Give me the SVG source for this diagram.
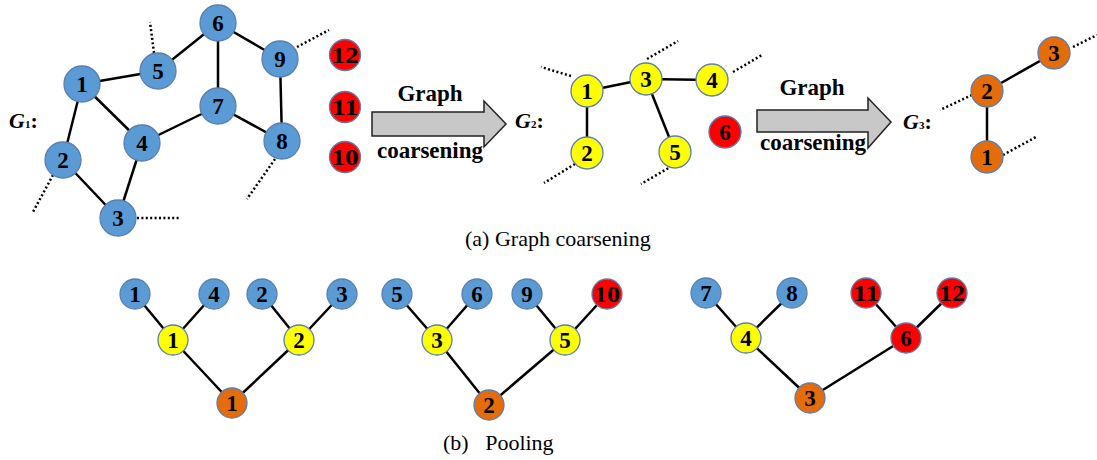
<svg xmlns="http://www.w3.org/2000/svg" width="1097" height="460" viewBox="0 0 1097 460">
<style>
.e{stroke:#000;stroke-width:2.5;fill:none}
.d{stroke:#000;stroke-width:2.5;stroke-dasharray:2 2.4;fill:none}
.n circle{stroke:#5A7FAE;stroke-width:1.3}
.b{fill:#5B9BD5}.y{fill:#FFFF00}.r{fill:#FF0000}.o{fill:#E46C0A}
.n text{font-family:"Liberation Serif",serif;font-weight:bold;font-size:23px;text-anchor:middle;fill:#000}
.t{font-family:"Liberation Serif",serif;font-weight:bold;font-size:23px;text-anchor:middle;fill:#000}
.g{font-family:"Liberation Serif",serif;font-weight:bold;font-size:22px;fill:#000}
.cap{font-family:"Liberation Serif",serif;font-size:22px;fill:#000}
.ar{fill:#C8C8C8;stroke:#222;stroke-width:1.5}
</style>
<rect width="1097" height="460" fill="#fff"/>
<g id="connectors">
<line class="e" x1="82" y1="84" x2="158" y2="71"/>
<line class="e" x1="158" y1="71" x2="218" y2="23"/>
<line class="e" x1="218" y1="23" x2="280" y2="59"/>
<line class="e" x1="218" y1="23" x2="218" y2="106"/>
<line class="e" x1="82" y1="84" x2="142" y2="143"/>
<line class="e" x1="82" y1="84" x2="63" y2="160"/>
<line class="e" x1="63" y1="160" x2="118" y2="218"/>
<line class="e" x1="118" y1="218" x2="142" y2="143"/>
<line class="e" x1="142" y1="143" x2="218" y2="106"/>
<line class="e" x1="218" y1="106" x2="282" y2="141"/>
<line class="e" x1="282" y1="141" x2="280" y2="59"/>
<line class="d" x1="154" y1="53" x2="150" y2="22"/>
<line class="d" x1="297" y1="47" x2="329" y2="30"/>
<line class="d" x1="275" y1="159" x2="247" y2="199"/>
<line class="d" x1="53" y1="175" x2="33" y2="212"/>
<line class="d" x1="137" y1="218" x2="179" y2="218"/>
<line class="e" x1="587" y1="91" x2="646" y2="79"/>
<line class="e" x1="646" y1="79" x2="712" y2="80"/>
<line class="e" x1="587" y1="91" x2="587" y2="153"/>
<line class="e" x1="646" y1="79" x2="675" y2="152"/>
<line class="d" x1="571" y1="76" x2="541" y2="67"/>
<line class="d" x1="647" y1="59" x2="678" y2="41"/>
<line class="d" x1="733" y1="72" x2="762" y2="55"/>
<line class="d" x1="575" y1="164" x2="544" y2="183"/>
<line class="d" x1="672" y1="166" x2="641" y2="184"/>
<line class="e" x1="987" y1="91" x2="1054" y2="53"/>
<line class="e" x1="987" y1="91" x2="987" y2="157"/>
<line class="d" x1="972" y1="95" x2="940" y2="110"/>
<line class="d" x1="1003" y1="155" x2="1036" y2="137"/>
<line class="d" x1="1073" y1="47" x2="1097" y2="35"/>
<line class="e" x1="135" y1="294" x2="173" y2="340"/>
<line class="e" x1="214" y1="294" x2="173" y2="340"/>
<line class="e" x1="262" y1="294" x2="299" y2="340"/>
<line class="e" x1="342" y1="294" x2="299" y2="340"/>
<line class="e" x1="173" y1="340" x2="232" y2="403"/>
<line class="e" x1="299" y1="340" x2="232" y2="403"/>
<line class="e" x1="397" y1="294" x2="437" y2="340"/>
<line class="e" x1="477" y1="294" x2="437" y2="340"/>
<line class="e" x1="527" y1="294" x2="565" y2="340"/>
<line class="e" x1="607" y1="294" x2="565" y2="340"/>
<line class="e" x1="437" y1="340" x2="489" y2="405"/>
<line class="e" x1="565" y1="340" x2="489" y2="405"/>
<line class="e" x1="706" y1="293" x2="746" y2="338"/>
<line class="e" x1="792" y1="293" x2="746" y2="338"/>
<line class="e" x1="866" y1="293" x2="906" y2="338"/>
<line class="e" x1="952" y1="293" x2="906" y2="338"/>
<line class="e" x1="746" y1="338" x2="810" y2="398"/>
<line class="e" x1="906" y1="338" x2="810" y2="398"/>
</g>
<g id="g1-n1" class="n"><circle class="b" cx="82" cy="84" r="18"/><text x="82" y="92">1</text></g>
<g id="g1-n2" class="n"><circle class="b" cx="63" cy="160" r="18"/><text x="63" y="168">2</text></g>
<g id="g1-n3" class="n"><circle class="b" cx="118" cy="218" r="18"/><text x="118" y="226">3</text></g>
<g id="g1-n4" class="n"><circle class="b" cx="142" cy="143" r="18"/><text x="142" y="151">4</text></g>
<g id="g1-n5" class="n"><circle class="b" cx="158" cy="71" r="18"/><text x="158" y="79">5</text></g>
<g id="g1-n6" class="n"><circle class="b" cx="218" cy="23" r="18"/><text x="218" y="31">6</text></g>
<g id="g1-n7" class="n"><circle class="b" cx="218" cy="106" r="18"/><text x="218" y="114">7</text></g>
<g id="g1-n8" class="n"><circle class="b" cx="282" cy="141" r="18"/><text x="282" y="149">8</text></g>
<g id="g1-n9" class="n"><circle class="b" cx="280" cy="59" r="18"/><text x="280" y="67">9</text></g>
<g id="g1-n12" class="n"><circle class="r" cx="345" cy="55" r="15.5"/><text x="345" y="63" textLength="27" lengthAdjust="spacingAndGlyphs">12</text></g>
<g id="g1-n11" class="n"><circle class="r" cx="345" cy="107" r="15.5"/><text x="345" y="115" textLength="27" lengthAdjust="spacingAndGlyphs">11</text></g>
<g id="g1-n10" class="n"><circle class="r" cx="345" cy="157" r="15.5"/><text x="345" y="165" textLength="27" lengthAdjust="spacingAndGlyphs">10</text></g>
<g id="label-g1"><text class="g" x="9" y="128"><tspan font-style="italic">G</tspan><tspan font-size="11">1</tspan><tspan>:</tspan></text></g>
<g id="arrow1">
<polygon class="ar" points="372,112 484,112 484,101 506,124 484,147 484,136 372,136"/>
<text class="t" x="430" y="101">Graph</text>
<text class="t" x="430" y="158">coarsening</text>
</g>
<g id="label-g2"><text class="g" x="515" y="128"><tspan font-style="italic">G</tspan><tspan font-size="11">2</tspan><tspan>:</tspan></text></g>
<g id="g2-n1" class="n"><circle class="y" cx="587" cy="91" r="16"/><text x="587" y="99">1</text></g>
<g id="g2-n2" class="n"><circle class="y" cx="587" cy="153" r="16"/><text x="587" y="161">2</text></g>
<g id="g2-n3" class="n"><circle class="y" cx="646" cy="79" r="16"/><text x="646" y="87">3</text></g>
<g id="g2-n4" class="n"><circle class="y" cx="712" cy="80" r="16"/><text x="712" y="88">4</text></g>
<g id="g2-n5" class="n"><circle class="y" cx="675" cy="152" r="16"/><text x="675" y="160">5</text></g>
<g id="g2-n6" class="n"><circle class="r" cx="725" cy="132" r="16"/><text x="725" y="140">6</text></g>
<g id="arrow2">
<polygon class="ar" points="757,110 868,110 868,98 891,122 868,148 868,132 757,132"/>
<text class="t" x="812" y="95">Graph</text>
<text class="t" x="813" y="150">coarsening</text>
</g>
<g id="label-g3"><text class="g" x="903" y="129"><tspan font-style="italic">G</tspan><tspan font-size="11">3</tspan><tspan>:</tspan></text></g>
<g id="g3-n1" class="n"><circle class="o" cx="987" cy="157" r="16"/><text x="987" y="165">1</text></g>
<g id="g3-n2" class="n"><circle class="o" cx="987" cy="91" r="16"/><text x="987" y="99">2</text></g>
<g id="g3-n3" class="n"><circle class="o" cx="1054" cy="53" r="16"/><text x="1054" y="61">3</text></g>
<text class="cap" x="465" y="246">(a) Graph coarsening</text>
<g id="p-b1" class="n"><circle class="b" cx="135" cy="294" r="15"/><text x="135" y="302">1</text></g>
<g id="p-b4" class="n"><circle class="b" cx="214" cy="294" r="15"/><text x="214" y="302">4</text></g>
<g id="p-b2" class="n"><circle class="b" cx="262" cy="294" r="15"/><text x="262" y="302">2</text></g>
<g id="p-b3" class="n"><circle class="b" cx="342" cy="294" r="15"/><text x="342" y="302">3</text></g>
<g id="p-y1" class="n"><circle class="y" cx="173" cy="340" r="15"/><text x="173" y="348">1</text></g>
<g id="p-y2" class="n"><circle class="y" cx="299" cy="340" r="15"/><text x="299" y="348">2</text></g>
<g id="p-o1" class="n"><circle class="o" cx="232" cy="403" r="15"/><text x="232" y="411">1</text></g>
<g id="p-b5" class="n"><circle class="b" cx="397" cy="294" r="15"/><text x="397" y="302">5</text></g>
<g id="p-b6" class="n"><circle class="b" cx="477" cy="294" r="15"/><text x="477" y="302">6</text></g>
<g id="p-b9" class="n"><circle class="b" cx="527" cy="294" r="15"/><text x="527" y="302">9</text></g>
<g id="p-r10" class="n"><circle class="r" cx="607" cy="294" r="15"/><text x="607" y="302" textLength="26" lengthAdjust="spacingAndGlyphs">10</text></g>
<g id="p-y3" class="n"><circle class="y" cx="437" cy="340" r="15"/><text x="437" y="348">3</text></g>
<g id="p-y5" class="n"><circle class="y" cx="565" cy="340" r="15"/><text x="565" y="348">5</text></g>
<g id="p-o2" class="n"><circle class="o" cx="489" cy="405" r="15"/><text x="489" y="413">2</text></g>
<g id="p-b7" class="n"><circle class="b" cx="706" cy="293" r="15"/><text x="706" y="301">7</text></g>
<g id="p-b8" class="n"><circle class="b" cx="792" cy="293" r="15"/><text x="792" y="301">8</text></g>
<g id="p-r11" class="n"><circle class="r" cx="866" cy="293" r="15"/><text x="866" y="301" textLength="26" lengthAdjust="spacingAndGlyphs">11</text></g>
<g id="p-r12" class="n"><circle class="r" cx="952" cy="293" r="15"/><text x="952" y="301" textLength="26" lengthAdjust="spacingAndGlyphs">12</text></g>
<g id="p-y4" class="n"><circle class="y" cx="746" cy="338" r="15"/><text x="746" y="346">4</text></g>
<g id="p-r6" class="n"><circle class="r" cx="906" cy="338" r="15"/><text x="906" y="346">6</text></g>
<g id="p-o3" class="n"><circle class="o" cx="810" cy="398" r="15"/><text x="810" y="406">3</text></g>
<text class="cap" x="443" y="450" xml:space="preserve">(b)   Pooling</text>
</svg>
